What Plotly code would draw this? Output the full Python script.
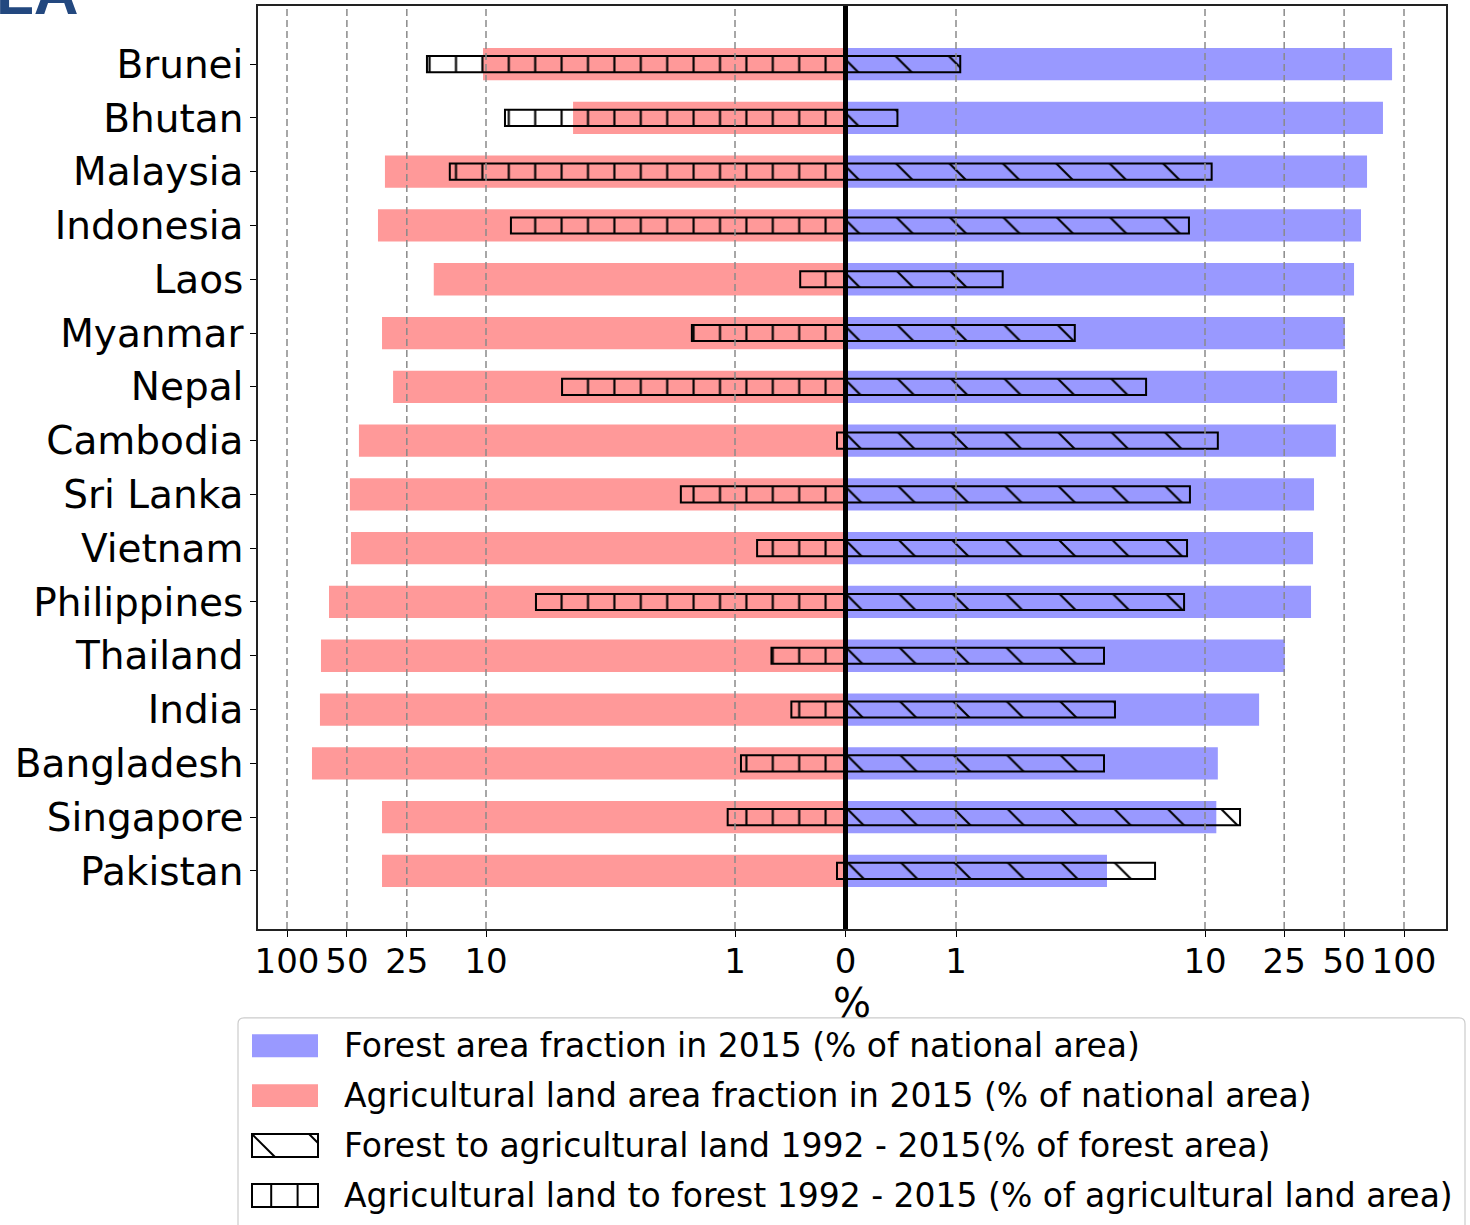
import math
import plotly.graph_objects as go

# ---- data (percent) ----
countries = ["Brunei", "Bhutan", "Malaysia", "Indonesia", "Laos", "Myanmar", "Nepal",
             "Cambodia", "Sri Lanka", "Vietnam", "Philippines", "Thailand", "India",
             "Bangladesh", "Singapore", "Pakistan"]
forest_2015 = [87.1, 78.4, 65.2, 60.8, 56.1, 50.5, 46.1, 45.5, 35.3, 34.9, 34.1,
               25.2, 18.7, 11.6, 11.4, 4.04]
agri_2015 = [10.35, 4.47, 32.2, 34.9, 18.3, 33.3, 29.3, 43.5, 48.3, 47.7, 61.5,
             67.5, 68.3, 74.9, 33.3, 33.3]
forest_to_agri = [1.04, 0.47, 10.8, 8.62, 1.54, 3.0, 5.8, 11.6, 8.7, 8.47, 8.24,
                  3.93, 4.35, 3.93, 15.0, 6.3]
agri_to_forest = [19.8, 8.39, 15.2, 7.94, 0.41, 1.49, 4.95, 0.077, 1.65, 0.80, 6.3,
                  0.67, 0.49, 0.946, 1.07, 0.077]

tick_pcts = [-100, -50, -25, -10, -1, 0, 1, 10, 25, 50, 100]
tick_text = ["100", "50", "25", "10", "1", "0", "1", "10", "25", "50", "100"]

legend_labels = [
    "Forest area fraction in 2015 (% of national area)",
    "Agricultural land area fraction in 2015 (% of national area)",
    "Forest to agricultural land 1992 - 2015(% of forest area)",
    "Agricultural land to forest 1992 - 2015 (% of agricultural land area)",
]

BLUE = "#9999ff"
RED = "#ff9999"
FONT = "DejaVu Sans"


def fwd(v):
    """Piecewise symmetric-log scale: linear below 1, log above."""
    a = abs(v)
    if a <= 1:
        t = 110.5 * a
    elif a <= 10:
        t = 110.5 + 249.0 * math.log10(a)
    else:
        t = 359.5 + 199.0 * math.log10(a / 10.0)
    return math.copysign(t, v) if v != 0 else 0.0


def right(vals):
    return [fwd(v) for v in vals]


def left(vals):
    return [-fwd(v) for v in vals]


fig = go.Figure()

fig.add_trace(go.Bar(y=countries, x=right(forest_2015), orientation="h", width=0.6,
                     marker=dict(color=BLUE, line=dict(width=0)), showlegend=False))
fig.add_trace(go.Bar(y=countries, x=left(agri_2015), orientation="h", width=0.6,
                     marker=dict(color=RED, line=dict(width=0)), showlegend=False))
fig.add_trace(go.Bar(y=countries, x=right(forest_to_agri), orientation="h", width=0.3,
                     marker=dict(color="rgba(0,0,0,0)",
                                 line=dict(color="black", width=2),
                                 pattern=dict(shape="\\", size=37.76, solidity=0.055,
                                              fgcolor="black", bgcolor="rgba(0,0,0,0)",
                                              fillmode="replace")),
                     showlegend=False))
fig.add_trace(go.Bar(y=countries, x=left(agri_to_forest), orientation="h", width=0.3,
                     marker=dict(color="rgba(0,0,0,0)",
                                 line=dict(color="black", width=2),
                                 pattern=dict(shape="|", size=26.4, solidity=0.08,
                                              fgcolor="black", bgcolor="rgba(0,0,0,0)",
                                              fillmode="replace")),
                     showlegend=False))

# plot-area geometry in page pixels
L, R, T, B = 258, 1446, 4, 929
W_PX, H_PX = R - L, B - T


def px(x):
    return (x - L) / W_PX


def py(y):
    return (B - y) / H_PX


shapes = []
# dashed vertical grid at tick positions, drawn over the bars
for v in tick_pcts:
    if v == 0:
        continue
    shapes.append(dict(type="line", xref="x", yref="paper", x0=fwd(v), x1=fwd(v), y0=0, y1=1,
                       line=dict(color="#8a8a8a", width=1.5, dash="7px,4px"), layer="above"))
# thick zero line
shapes.append(dict(type="line", xref="x", yref="paper", x0=0, x1=0, y0=0, y1=1,
                   line=dict(color="black", width=5), layer="above"))

# legend frame with rounded corners
x0, x1, y0, y1, r = 238, 1465, 1018, 1240, 6
rx, ry = r / W_PX, r / H_PX
X0, X1, Y0, Y1 = px(x0), px(x1), py(y0), py(y1)
path = (f"M{X0+rx},{Y0} L{X1-rx},{Y0} Q{X1},{Y0} {X1},{Y0-ry} "
        f"L{X1},{Y1+ry} Q{X1},{Y1} {X1-rx},{Y1} L{X0+rx},{Y1} "
        f"Q{X0},{Y1} {X0},{Y1+ry} L{X0},{Y0-ry} Q{X0},{Y0} {X0+rx},{Y0} Z")
shapes.append(dict(type="path", xref="paper", yref="paper", path=path,
                   fillcolor="rgba(255,255,255,0.85)", line=dict(color="#cccccc", width=1.2),
                   layer="above"))

# legend swatches
sw_x0, sw_x1 = 252, 318
row_c = [1046, 1096, 1146, 1196]
hh = 11.5
shapes.append(dict(type="rect", xref="paper", yref="paper", x0=px(sw_x0), x1=px(sw_x1),
                   y0=py(row_c[0] - hh), y1=py(row_c[0] + hh), fillcolor=BLUE,
                   line=dict(width=0), layer="above"))
shapes.append(dict(type="rect", xref="paper", yref="paper", x0=px(sw_x0), x1=px(sw_x1),
                   y0=py(row_c[1] - hh), y1=py(row_c[1] + hh), fillcolor=RED,
                   line=dict(width=0), layer="above"))
for k in (2, 3):
    shapes.append(dict(type="rect", xref="paper", yref="paper", x0=px(sw_x0), x1=px(sw_x1),
                       y0=py(row_c[k] - hh), y1=py(row_c[k] + hh), fillcolor="white",
                       line=dict(color="black", width=2), layer="above"))
# hatch strokes inside the hatched swatches
top2, bot2 = row_c[2] - hh, row_c[2] + hh
shapes.append(dict(type="line", xref="paper", yref="paper", x0=px(sw_x0), y0=py(top2),
                   x1=px(sw_x0 + (bot2 - top2)), y1=py(bot2),
                   line=dict(color="black", width=2), layer="above"))
shapes.append(dict(type="line", xref="paper", yref="paper", x0=px(309), y0=py(top2),
                   x1=px(sw_x1), y1=py(top2 + 9), line=dict(color="black", width=2),
                   layer="above"))
top3, bot3 = row_c[3] - hh, row_c[3] + hh
for xv in (271.2, 297.6):
    shapes.append(dict(type="line", xref="paper", yref="paper", x0=px(xv), x1=px(xv),
                       y0=py(top3), y1=py(bot3), line=dict(color="black", width=2),
                       layer="above"))

annotations = []
for lbl, yc in zip(legend_labels, row_c):
    annotations.append(dict(text=lbl, xref="paper", yref="paper", x=px(342), y=py(yc),
                            xanchor="left", yanchor="middle", showarrow=False,
                            font=dict(family=FONT, size=33, color="black")))
# axis label
annotations.append(dict(text="%", xref="paper", yref="paper", x=0.5, y=py(978),
                        xanchor="center", yanchor="top", showarrow=False,
                        font=dict(family=FONT, size=40, color="black")))
# panel heading at the top-left corner
annotations.append(dict(text="<b>LA</b>", xref="paper", yref="paper", x=px(-6), y=py(-10),
                        xanchor="left", yanchor="middle", showarrow=False,
                        font=dict(family="Liberation Sans", size=62, color="#23487f")))

fig.update_layout(
    width=1470, height=1225,
    margin=dict(l=L, r=1470 - R, t=T, b=1225 - B, pad=0),
    paper_bgcolor="white", plot_bgcolor="white",
    barmode="overlay",
    showlegend=False,
    shapes=shapes,
    annotations=annotations,
    font=dict(family=FONT, color="black"),
)
fig.update_xaxes(
    range=[-(845.5 - L), R - 845.5],
    tickmode="array", tickvals=[fwd(v) for v in tick_pcts], ticktext=tick_text,
    tickfont=dict(family=FONT, size=34, color="black"),
    ticks="outside", ticklen=6, tickwidth=1.2, tickcolor="black",
    ticklabelstandoff=-5,
    showgrid=False, zeroline=False,
    showline=True, mirror=True, linecolor="#222222", linewidth=1.5,
)
fig.update_yaxes(
    type="category", categoryorder="array", categoryarray=countries,
    range=[15 + 1.08, -1.08],
    tickfont=dict(family=FONT, size=39, color="black"),
    ticks="outside", ticklen=6, tickwidth=1.2, tickcolor="black",
    ticklabelstandoff=-1,
    showgrid=False, zeroline=False,
    showline=True, mirror=True, linecolor="#222222", linewidth=1.5,
)

fig.write_html("out.html")
